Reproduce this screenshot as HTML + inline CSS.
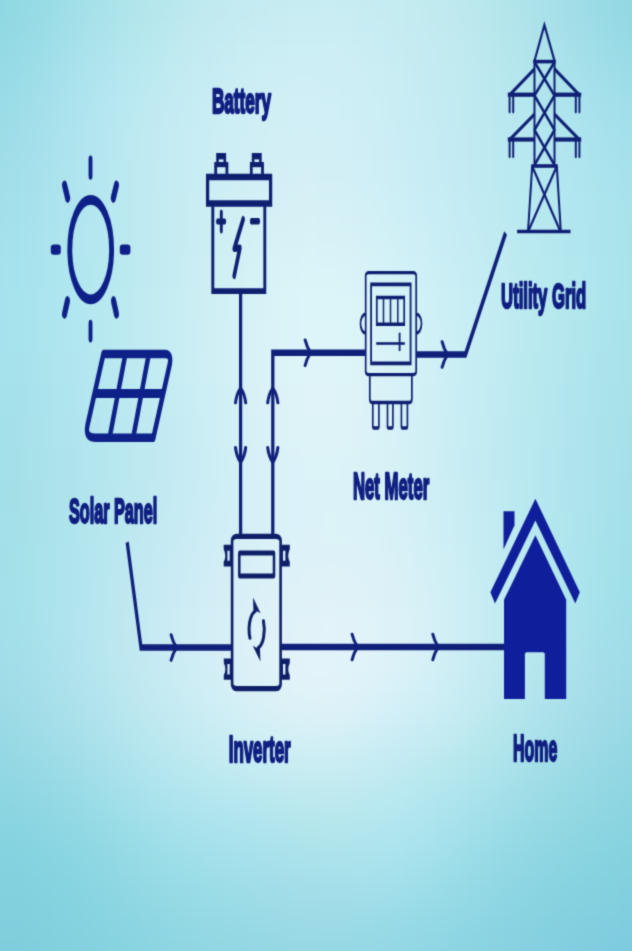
<!DOCTYPE html>
<html><head><meta charset="utf-8"><title>Solar system diagram</title>
<style>
html,body{margin:0;padding:0;width:632px;height:951px;overflow:hidden;}
body{background:radial-gradient(ellipse 300px 500px at 316px 400px, #dcf4f9 0%, #d6f1f7 45%, #cdeef5 68%, #c3eaf2 77%, #aee4ed 93%, #a3dfe8 102%, #8fd8e2 133%, #80cedd 150%);font-family:"Liberation Sans",sans-serif;}
svg{position:absolute;left:0;top:0;will-change:transform;}
</style></head>
<body>
<svg width="632" height="951" viewBox="0 0 632 951">
<defs><filter id="soft" color-interpolation-filters="sRGB" filterUnits="userSpaceOnUse" x="0" y="0" width="632" height="951"><feConvolveMatrix order="3" kernelMatrix="1 4.0 1 4.0 16.0 4.0 1 4.0 1" divisor="36.0"/></filter>
</defs>
<g>
<defs><filter id="bgb" color-interpolation-filters="sRGB" filterUnits="userSpaceOnUse" x="-120" y="-120" width="872" height="1191"><feGaussianBlur stdDeviation="16"/></filter></defs><g filter="url(#bgb)"><rect x="-64" y="-64" width="32" height="32" fill="#8cd7e1"/><rect x="-32" y="-64" width="32" height="32" fill="#8cd7e1"/><rect x="0" y="-64" width="32" height="32" fill="#90d8e2"/><rect x="32" y="-64" width="32" height="32" fill="#98dce5"/><rect x="64" y="-64" width="32" height="32" fill="#a1dfe7"/><rect x="96" y="-64" width="32" height="32" fill="#aae2e9"/><rect x="128" y="-64" width="32" height="32" fill="#b1e5eb"/><rect x="160" y="-64" width="32" height="32" fill="#b8e8ed"/><rect x="192" y="-64" width="32" height="32" fill="#bde9ef"/><rect x="224" y="-64" width="32" height="32" fill="#c2ebf0"/><rect x="256" y="-64" width="32" height="32" fill="#c5ebf1"/><rect x="288" y="-64" width="32" height="32" fill="#c6ecf2"/><rect x="320" y="-64" width="32" height="32" fill="#c6ecf2"/><rect x="352" y="-64" width="32" height="32" fill="#c5ecf1"/><rect x="384" y="-64" width="32" height="32" fill="#c3ebf0"/><rect x="416" y="-64" width="32" height="32" fill="#c0eaee"/><rect x="448" y="-64" width="32" height="32" fill="#bbe8ed"/><rect x="480" y="-64" width="32" height="32" fill="#b4e5eb"/><rect x="512" y="-64" width="32" height="32" fill="#ace2e9"/><rect x="544" y="-64" width="32" height="32" fill="#a4dee7"/><rect x="576" y="-64" width="32" height="32" fill="#9bdbe5"/><rect x="608" y="-64" width="32" height="32" fill="#93d7e3"/><rect x="640" y="-64" width="32" height="32" fill="#91d7e3"/><rect x="672" y="-64" width="32" height="32" fill="#91d7e3"/><rect x="-64" y="-32" width="32" height="32" fill="#8cd7e1"/><rect x="-32" y="-32" width="32" height="32" fill="#8cd7e1"/><rect x="0" y="-32" width="32" height="32" fill="#90d8e2"/><rect x="32" y="-32" width="32" height="32" fill="#98dce5"/><rect x="64" y="-32" width="32" height="32" fill="#a1dfe7"/><rect x="96" y="-32" width="32" height="32" fill="#aae2e9"/><rect x="128" y="-32" width="32" height="32" fill="#b1e5eb"/><rect x="160" y="-32" width="32" height="32" fill="#b8e8ed"/><rect x="192" y="-32" width="32" height="32" fill="#bde9ef"/><rect x="224" y="-32" width="32" height="32" fill="#c2ebf0"/><rect x="256" y="-32" width="32" height="32" fill="#c5ebf1"/><rect x="288" y="-32" width="32" height="32" fill="#c6ecf2"/><rect x="320" y="-32" width="32" height="32" fill="#c6ecf2"/><rect x="352" y="-32" width="32" height="32" fill="#c5ecf1"/><rect x="384" y="-32" width="32" height="32" fill="#c3ebf0"/><rect x="416" y="-32" width="32" height="32" fill="#c0eaee"/><rect x="448" y="-32" width="32" height="32" fill="#bbe8ed"/><rect x="480" y="-32" width="32" height="32" fill="#b4e5eb"/><rect x="512" y="-32" width="32" height="32" fill="#ace2e9"/><rect x="544" y="-32" width="32" height="32" fill="#a4dee7"/><rect x="576" y="-32" width="32" height="32" fill="#9bdbe5"/><rect x="608" y="-32" width="32" height="32" fill="#93d7e3"/><rect x="640" y="-32" width="32" height="32" fill="#91d7e3"/><rect x="672" y="-32" width="32" height="32" fill="#91d7e3"/><rect x="-64" y="0" width="32" height="32" fill="#8dd7e2"/><rect x="-32" y="0" width="32" height="32" fill="#8dd7e2"/><rect x="0" y="0" width="32" height="32" fill="#91d9e3"/><rect x="32" y="0" width="32" height="32" fill="#9adce6"/><rect x="64" y="0" width="32" height="32" fill="#a3e0e8"/><rect x="96" y="0" width="32" height="32" fill="#ace3eb"/><rect x="128" y="0" width="32" height="32" fill="#b4e6ec"/><rect x="160" y="0" width="32" height="32" fill="#bae8ee"/><rect x="192" y="0" width="32" height="32" fill="#c0eaf0"/><rect x="224" y="0" width="32" height="32" fill="#c4ebf1"/><rect x="256" y="0" width="32" height="32" fill="#c7ecf2"/><rect x="288" y="0" width="32" height="32" fill="#c8edf3"/><rect x="320" y="0" width="32" height="32" fill="#c9edf3"/><rect x="352" y="0" width="32" height="32" fill="#c7ecf2"/><rect x="384" y="0" width="32" height="32" fill="#c5ecf1"/><rect x="416" y="0" width="32" height="32" fill="#c1eaef"/><rect x="448" y="0" width="32" height="32" fill="#bde9ee"/><rect x="480" y="0" width="32" height="32" fill="#b6e6ec"/><rect x="512" y="0" width="32" height="32" fill="#aee3ea"/><rect x="544" y="0" width="32" height="32" fill="#a5dfe8"/><rect x="576" y="0" width="32" height="32" fill="#9cdce6"/><rect x="608" y="0" width="32" height="32" fill="#94d8e4"/><rect x="640" y="0" width="32" height="32" fill="#93d8e4"/><rect x="672" y="0" width="32" height="32" fill="#93d8e4"/><rect x="-64" y="32" width="32" height="32" fill="#91d9e3"/><rect x="-32" y="32" width="32" height="32" fill="#91d9e3"/><rect x="0" y="32" width="32" height="32" fill="#95dae5"/><rect x="32" y="32" width="32" height="32" fill="#9edee8"/><rect x="64" y="32" width="32" height="32" fill="#a8e2eb"/><rect x="96" y="32" width="32" height="32" fill="#b0e5ed"/><rect x="128" y="32" width="32" height="32" fill="#b8e8ef"/><rect x="160" y="32" width="32" height="32" fill="#beeaf0"/><rect x="192" y="32" width="32" height="32" fill="#c4ebf1"/><rect x="224" y="32" width="32" height="32" fill="#c8edf3"/><rect x="256" y="32" width="32" height="32" fill="#cbedf4"/><rect x="288" y="32" width="32" height="32" fill="#cceef5"/><rect x="320" y="32" width="32" height="32" fill="#cceef4"/><rect x="352" y="32" width="32" height="32" fill="#caedf4"/><rect x="384" y="32" width="32" height="32" fill="#c7ecf2"/><rect x="416" y="32" width="32" height="32" fill="#c3ebf1"/><rect x="448" y="32" width="32" height="32" fill="#bfeaef"/><rect x="480" y="32" width="32" height="32" fill="#b9e7ed"/><rect x="512" y="32" width="32" height="32" fill="#b1e4ec"/><rect x="544" y="32" width="32" height="32" fill="#a9e1ea"/><rect x="576" y="32" width="32" height="32" fill="#a0dee8"/><rect x="608" y="32" width="32" height="32" fill="#98dae6"/><rect x="640" y="32" width="32" height="32" fill="#97dae6"/><rect x="672" y="32" width="32" height="32" fill="#97dae6"/><rect x="-64" y="64" width="32" height="32" fill="#95dae5"/><rect x="-32" y="64" width="32" height="32" fill="#95dae5"/><rect x="0" y="64" width="32" height="32" fill="#99dce7"/><rect x="32" y="64" width="32" height="32" fill="#a2dfea"/><rect x="64" y="64" width="32" height="32" fill="#ace3ed"/><rect x="96" y="64" width="32" height="32" fill="#b4e6f0"/><rect x="128" y="64" width="32" height="32" fill="#bbe9f1"/><rect x="160" y="64" width="32" height="32" fill="#c1ebf2"/><rect x="192" y="64" width="32" height="32" fill="#c7ecf3"/><rect x="224" y="64" width="32" height="32" fill="#cbedf4"/><rect x="256" y="64" width="32" height="32" fill="#ceeef5"/><rect x="288" y="64" width="32" height="32" fill="#cfeef6"/><rect x="320" y="64" width="32" height="32" fill="#ceeef5"/><rect x="352" y="64" width="32" height="32" fill="#cceef4"/><rect x="384" y="64" width="32" height="32" fill="#c8edf3"/><rect x="416" y="64" width="32" height="32" fill="#c4ebf2"/><rect x="448" y="64" width="32" height="32" fill="#bfeaf0"/><rect x="480" y="64" width="32" height="32" fill="#bae8ef"/><rect x="512" y="64" width="32" height="32" fill="#b3e5ed"/><rect x="544" y="64" width="32" height="32" fill="#ace3ec"/><rect x="576" y="64" width="32" height="32" fill="#a4e0ea"/><rect x="608" y="64" width="32" height="32" fill="#9ddde8"/><rect x="640" y="64" width="32" height="32" fill="#9bdce8"/><rect x="672" y="64" width="32" height="32" fill="#9bdce8"/><rect x="-64" y="96" width="32" height="32" fill="#98dbe6"/><rect x="-32" y="96" width="32" height="32" fill="#98dbe6"/><rect x="0" y="96" width="32" height="32" fill="#9ddde8"/><rect x="32" y="96" width="32" height="32" fill="#a5e0eb"/><rect x="64" y="96" width="32" height="32" fill="#aee4ef"/><rect x="96" y="96" width="32" height="32" fill="#b7e7f1"/><rect x="128" y="96" width="32" height="32" fill="#beeaf2"/><rect x="160" y="96" width="32" height="32" fill="#c4ebf3"/><rect x="192" y="96" width="32" height="32" fill="#c9edf4"/><rect x="224" y="96" width="32" height="32" fill="#cdeef5"/><rect x="256" y="96" width="32" height="32" fill="#d0eff5"/><rect x="288" y="96" width="32" height="32" fill="#d1eff6"/><rect x="320" y="96" width="32" height="32" fill="#d0eff6"/><rect x="352" y="96" width="32" height="32" fill="#cdeef5"/><rect x="384" y="96" width="32" height="32" fill="#c9edf4"/><rect x="416" y="96" width="32" height="32" fill="#c5ebf3"/><rect x="448" y="96" width="32" height="32" fill="#c0eaf1"/><rect x="480" y="96" width="32" height="32" fill="#bbe8f0"/><rect x="512" y="96" width="32" height="32" fill="#b5e7ef"/><rect x="544" y="96" width="32" height="32" fill="#afe4ed"/><rect x="576" y="96" width="32" height="32" fill="#a8e2ec"/><rect x="608" y="96" width="32" height="32" fill="#a1dfea"/><rect x="640" y="96" width="32" height="32" fill="#9fdeea"/><rect x="672" y="96" width="32" height="32" fill="#9fdeea"/><rect x="-64" y="128" width="32" height="32" fill="#9bdce7"/><rect x="-32" y="128" width="32" height="32" fill="#9bdce7"/><rect x="0" y="128" width="32" height="32" fill="#9fdde9"/><rect x="32" y="128" width="32" height="32" fill="#a7e1ec"/><rect x="64" y="128" width="32" height="32" fill="#b0e4ef"/><rect x="96" y="128" width="32" height="32" fill="#b8e7f1"/><rect x="128" y="128" width="32" height="32" fill="#bfeaf2"/><rect x="160" y="128" width="32" height="32" fill="#c5ecf3"/><rect x="192" y="128" width="32" height="32" fill="#caedf4"/><rect x="224" y="128" width="32" height="32" fill="#cfeef5"/><rect x="256" y="128" width="32" height="32" fill="#d1eff5"/><rect x="288" y="128" width="32" height="32" fill="#d2eff6"/><rect x="320" y="128" width="32" height="32" fill="#d2eff6"/><rect x="352" y="128" width="32" height="32" fill="#cfeef5"/><rect x="384" y="128" width="32" height="32" fill="#cbedf5"/><rect x="416" y="128" width="32" height="32" fill="#c6ecf4"/><rect x="448" y="128" width="32" height="32" fill="#c1eaf2"/><rect x="480" y="128" width="32" height="32" fill="#bce9f1"/><rect x="512" y="128" width="32" height="32" fill="#b7e7f0"/><rect x="544" y="128" width="32" height="32" fill="#b1e6ef"/><rect x="576" y="128" width="32" height="32" fill="#abe3ed"/><rect x="608" y="128" width="32" height="32" fill="#a4e1eb"/><rect x="640" y="128" width="32" height="32" fill="#a3e0eb"/><rect x="672" y="128" width="32" height="32" fill="#a3e0eb"/><rect x="-64" y="160" width="32" height="32" fill="#9ddde8"/><rect x="-32" y="160" width="32" height="32" fill="#9ddde8"/><rect x="0" y="160" width="32" height="32" fill="#a1dfea"/><rect x="32" y="160" width="32" height="32" fill="#a9e2ec"/><rect x="64" y="160" width="32" height="32" fill="#b1e5ef"/><rect x="96" y="160" width="32" height="32" fill="#b8e8f0"/><rect x="128" y="160" width="32" height="32" fill="#bfeaf2"/><rect x="160" y="160" width="32" height="32" fill="#c5ecf3"/><rect x="192" y="160" width="32" height="32" fill="#cbedf4"/><rect x="224" y="160" width="32" height="32" fill="#d0eff5"/><rect x="256" y="160" width="32" height="32" fill="#d3eff5"/><rect x="288" y="160" width="32" height="32" fill="#d4f0f6"/><rect x="320" y="160" width="32" height="32" fill="#d3eff6"/><rect x="352" y="160" width="32" height="32" fill="#d0eff6"/><rect x="384" y="160" width="32" height="32" fill="#cceef5"/><rect x="416" y="160" width="32" height="32" fill="#c7ecf4"/><rect x="448" y="160" width="32" height="32" fill="#c2ebf3"/><rect x="480" y="160" width="32" height="32" fill="#bdeaf2"/><rect x="512" y="160" width="32" height="32" fill="#b8e8f1"/><rect x="544" y="160" width="32" height="32" fill="#b3e6ef"/><rect x="576" y="160" width="32" height="32" fill="#ade4ee"/><rect x="608" y="160" width="32" height="32" fill="#a6e2ec"/><rect x="640" y="160" width="32" height="32" fill="#a5e1eb"/><rect x="672" y="160" width="32" height="32" fill="#a5e1eb"/><rect x="-64" y="192" width="32" height="32" fill="#9fdfea"/><rect x="-32" y="192" width="32" height="32" fill="#9fdfea"/><rect x="0" y="192" width="32" height="32" fill="#a2e0eb"/><rect x="32" y="192" width="32" height="32" fill="#aae3ed"/><rect x="64" y="192" width="32" height="32" fill="#b1e5ef"/><rect x="96" y="192" width="32" height="32" fill="#b8e8f0"/><rect x="128" y="192" width="32" height="32" fill="#bfeaf1"/><rect x="160" y="192" width="32" height="32" fill="#c5ecf2"/><rect x="192" y="192" width="32" height="32" fill="#cceef4"/><rect x="224" y="192" width="32" height="32" fill="#d1eff5"/><rect x="256" y="192" width="32" height="32" fill="#d4f0f6"/><rect x="288" y="192" width="32" height="32" fill="#d6f1f6"/><rect x="320" y="192" width="32" height="32" fill="#d5f1f7"/><rect x="352" y="192" width="32" height="32" fill="#d2f0f6"/><rect x="384" y="192" width="32" height="32" fill="#ceeff6"/><rect x="416" y="192" width="32" height="32" fill="#c9edf5"/><rect x="448" y="192" width="32" height="32" fill="#c3ecf4"/><rect x="480" y="192" width="32" height="32" fill="#beeaf2"/><rect x="512" y="192" width="32" height="32" fill="#b9e9f1"/><rect x="544" y="192" width="32" height="32" fill="#b4e7ef"/><rect x="576" y="192" width="32" height="32" fill="#aee5ee"/><rect x="608" y="192" width="32" height="32" fill="#a8e3ec"/><rect x="640" y="192" width="32" height="32" fill="#a6e2eb"/><rect x="672" y="192" width="32" height="32" fill="#a6e2eb"/><rect x="-64" y="224" width="32" height="32" fill="#a0e0eb"/><rect x="-32" y="224" width="32" height="32" fill="#a0e0eb"/><rect x="0" y="224" width="32" height="32" fill="#a4e1ec"/><rect x="32" y="224" width="32" height="32" fill="#abe4ee"/><rect x="64" y="224" width="32" height="32" fill="#b2e6ef"/><rect x="96" y="224" width="32" height="32" fill="#b8e8f0"/><rect x="128" y="224" width="32" height="32" fill="#bfeaf1"/><rect x="160" y="224" width="32" height="32" fill="#c5ecf2"/><rect x="192" y="224" width="32" height="32" fill="#cceef3"/><rect x="224" y="224" width="32" height="32" fill="#d2f0f5"/><rect x="256" y="224" width="32" height="32" fill="#d6f2f6"/><rect x="288" y="224" width="32" height="32" fill="#d8f2f7"/><rect x="320" y="224" width="32" height="32" fill="#d7f2f7"/><rect x="352" y="224" width="32" height="32" fill="#d5f1f7"/><rect x="384" y="224" width="32" height="32" fill="#d0f0f6"/><rect x="416" y="224" width="32" height="32" fill="#cbeef5"/><rect x="448" y="224" width="32" height="32" fill="#c5ecf4"/><rect x="480" y="224" width="32" height="32" fill="#bfebf2"/><rect x="512" y="224" width="32" height="32" fill="#bae9f1"/><rect x="544" y="224" width="32" height="32" fill="#b4e7ef"/><rect x="576" y="224" width="32" height="32" fill="#aee5ed"/><rect x="608" y="224" width="32" height="32" fill="#a8e3ec"/><rect x="640" y="224" width="32" height="32" fill="#a7e2eb"/><rect x="672" y="224" width="32" height="32" fill="#a7e2eb"/><rect x="-64" y="256" width="32" height="32" fill="#a1e1ec"/><rect x="-32" y="256" width="32" height="32" fill="#a1e1ec"/><rect x="0" y="256" width="32" height="32" fill="#a5e2ed"/><rect x="32" y="256" width="32" height="32" fill="#abe5ee"/><rect x="64" y="256" width="32" height="32" fill="#b2e7ef"/><rect x="96" y="256" width="32" height="32" fill="#b8e9f0"/><rect x="128" y="256" width="32" height="32" fill="#bfeaf1"/><rect x="160" y="256" width="32" height="32" fill="#c6ecf2"/><rect x="192" y="256" width="32" height="32" fill="#cdeff4"/><rect x="224" y="256" width="32" height="32" fill="#d3f1f5"/><rect x="256" y="256" width="32" height="32" fill="#d8f3f7"/><rect x="288" y="256" width="32" height="32" fill="#daf4f8"/><rect x="320" y="256" width="32" height="32" fill="#daf4f8"/><rect x="352" y="256" width="32" height="32" fill="#d7f3f8"/><rect x="384" y="256" width="32" height="32" fill="#d2f1f7"/><rect x="416" y="256" width="32" height="32" fill="#cdeff6"/><rect x="448" y="256" width="32" height="32" fill="#c7edf4"/><rect x="480" y="256" width="32" height="32" fill="#c1ebf2"/><rect x="512" y="256" width="32" height="32" fill="#bbeaf1"/><rect x="544" y="256" width="32" height="32" fill="#b5e8ef"/><rect x="576" y="256" width="32" height="32" fill="#afe6ed"/><rect x="608" y="256" width="32" height="32" fill="#a8e3eb"/><rect x="640" y="256" width="32" height="32" fill="#a7e3eb"/><rect x="672" y="256" width="32" height="32" fill="#a7e3eb"/><rect x="-64" y="288" width="32" height="32" fill="#a2e2ec"/><rect x="-32" y="288" width="32" height="32" fill="#a2e2ec"/><rect x="0" y="288" width="32" height="32" fill="#a5e3ed"/><rect x="32" y="288" width="32" height="32" fill="#ace5ef"/><rect x="64" y="288" width="32" height="32" fill="#b2e7f0"/><rect x="96" y="288" width="32" height="32" fill="#b9e9f0"/><rect x="128" y="288" width="32" height="32" fill="#c0ebf1"/><rect x="160" y="288" width="32" height="32" fill="#c7edf2"/><rect x="192" y="288" width="32" height="32" fill="#ceeff4"/><rect x="224" y="288" width="32" height="32" fill="#d4f1f6"/><rect x="256" y="288" width="32" height="32" fill="#d9f3f8"/><rect x="288" y="288" width="32" height="32" fill="#dcf5f9"/><rect x="320" y="288" width="32" height="32" fill="#dcf5f9"/><rect x="352" y="288" width="32" height="32" fill="#d9f4f8"/><rect x="384" y="288" width="32" height="32" fill="#d4f2f7"/><rect x="416" y="288" width="32" height="32" fill="#cef0f6"/><rect x="448" y="288" width="32" height="32" fill="#c8eef4"/><rect x="480" y="288" width="32" height="32" fill="#c1ecf2"/><rect x="512" y="288" width="32" height="32" fill="#bbeaf0"/><rect x="544" y="288" width="32" height="32" fill="#b5e8ee"/><rect x="576" y="288" width="32" height="32" fill="#afe6ec"/><rect x="608" y="288" width="32" height="32" fill="#a8e3eb"/><rect x="640" y="288" width="32" height="32" fill="#a7e3ea"/><rect x="672" y="288" width="32" height="32" fill="#a7e3ea"/><rect x="-64" y="320" width="32" height="32" fill="#a2e1ec"/><rect x="-32" y="320" width="32" height="32" fill="#a2e1ec"/><rect x="0" y="320" width="32" height="32" fill="#a5e3ed"/><rect x="32" y="320" width="32" height="32" fill="#ace5ee"/><rect x="64" y="320" width="32" height="32" fill="#b2e7ef"/><rect x="96" y="320" width="32" height="32" fill="#b9e9f0"/><rect x="128" y="320" width="32" height="32" fill="#c0ebf2"/><rect x="160" y="320" width="32" height="32" fill="#c7edf3"/><rect x="192" y="320" width="32" height="32" fill="#ceeff4"/><rect x="224" y="320" width="32" height="32" fill="#d5f1f6"/><rect x="256" y="320" width="32" height="32" fill="#daf3f8"/><rect x="288" y="320" width="32" height="32" fill="#ddf5f9"/><rect x="320" y="320" width="32" height="32" fill="#ddf5f9"/><rect x="352" y="320" width="32" height="32" fill="#daf4f8"/><rect x="384" y="320" width="32" height="32" fill="#d5f2f7"/><rect x="416" y="320" width="32" height="32" fill="#cff0f6"/><rect x="448" y="320" width="32" height="32" fill="#c8eef4"/><rect x="480" y="320" width="32" height="32" fill="#c1ecf2"/><rect x="512" y="320" width="32" height="32" fill="#bbe9f0"/><rect x="544" y="320" width="32" height="32" fill="#b5e7ee"/><rect x="576" y="320" width="32" height="32" fill="#aee5ec"/><rect x="608" y="320" width="32" height="32" fill="#a8e3ea"/><rect x="640" y="320" width="32" height="32" fill="#a7e2ea"/><rect x="672" y="320" width="32" height="32" fill="#a7e2ea"/><rect x="-64" y="352" width="32" height="32" fill="#a2e1eb"/><rect x="-32" y="352" width="32" height="32" fill="#a2e1eb"/><rect x="0" y="352" width="32" height="32" fill="#a5e2ec"/><rect x="32" y="352" width="32" height="32" fill="#ace4ed"/><rect x="64" y="352" width="32" height="32" fill="#b2e6ef"/><rect x="96" y="352" width="32" height="32" fill="#b9e8f0"/><rect x="128" y="352" width="32" height="32" fill="#c0eaf2"/><rect x="160" y="352" width="32" height="32" fill="#c7edf3"/><rect x="192" y="352" width="32" height="32" fill="#ceeff5"/><rect x="224" y="352" width="32" height="32" fill="#d5f1f6"/><rect x="256" y="352" width="32" height="32" fill="#dbf3f8"/><rect x="288" y="352" width="32" height="32" fill="#def4f8"/><rect x="320" y="352" width="32" height="32" fill="#def4f9"/><rect x="352" y="352" width="32" height="32" fill="#dbf3f8"/><rect x="384" y="352" width="32" height="32" fill="#d6f2f7"/><rect x="416" y="352" width="32" height="32" fill="#cff0f6"/><rect x="448" y="352" width="32" height="32" fill="#c8edf4"/><rect x="480" y="352" width="32" height="32" fill="#c1ebf2"/><rect x="512" y="352" width="32" height="32" fill="#bae9f0"/><rect x="544" y="352" width="32" height="32" fill="#b4e7ee"/><rect x="576" y="352" width="32" height="32" fill="#aee4ec"/><rect x="608" y="352" width="32" height="32" fill="#a8e2ea"/><rect x="640" y="352" width="32" height="32" fill="#a6e2ea"/><rect x="672" y="352" width="32" height="32" fill="#a6e2ea"/><rect x="-64" y="384" width="32" height="32" fill="#a2e0ea"/><rect x="-32" y="384" width="32" height="32" fill="#a2e0ea"/><rect x="0" y="384" width="32" height="32" fill="#a5e1eb"/><rect x="32" y="384" width="32" height="32" fill="#abe3ed"/><rect x="64" y="384" width="32" height="32" fill="#b2e6ee"/><rect x="96" y="384" width="32" height="32" fill="#b8e8f0"/><rect x="128" y="384" width="32" height="32" fill="#bfeaf1"/><rect x="160" y="384" width="32" height="32" fill="#c6ecf3"/><rect x="192" y="384" width="32" height="32" fill="#cdeef5"/><rect x="224" y="384" width="32" height="32" fill="#d5f0f6"/><rect x="256" y="384" width="32" height="32" fill="#dbf2f7"/><rect x="288" y="384" width="32" height="32" fill="#dff3f8"/><rect x="320" y="384" width="32" height="32" fill="#dff3f8"/><rect x="352" y="384" width="32" height="32" fill="#dbf3f8"/><rect x="384" y="384" width="32" height="32" fill="#d6f1f7"/><rect x="416" y="384" width="32" height="32" fill="#cfeff5"/><rect x="448" y="384" width="32" height="32" fill="#c7edf4"/><rect x="480" y="384" width="32" height="32" fill="#c0ebf2"/><rect x="512" y="384" width="32" height="32" fill="#bae9f0"/><rect x="544" y="384" width="32" height="32" fill="#b3e6ee"/><rect x="576" y="384" width="32" height="32" fill="#ade4ec"/><rect x="608" y="384" width="32" height="32" fill="#a7e1ea"/><rect x="640" y="384" width="32" height="32" fill="#a6e1ea"/><rect x="672" y="384" width="32" height="32" fill="#a6e1ea"/><rect x="-64" y="416" width="32" height="32" fill="#a2dfe9"/><rect x="-32" y="416" width="32" height="32" fill="#a2dfe9"/><rect x="0" y="416" width="32" height="32" fill="#a5e0ea"/><rect x="32" y="416" width="32" height="32" fill="#abe3ec"/><rect x="64" y="416" width="32" height="32" fill="#b1e5ee"/><rect x="96" y="416" width="32" height="32" fill="#b8e7ef"/><rect x="128" y="416" width="32" height="32" fill="#bee9f1"/><rect x="160" y="416" width="32" height="32" fill="#c5ebf3"/><rect x="192" y="416" width="32" height="32" fill="#cceef5"/><rect x="224" y="416" width="32" height="32" fill="#d4f0f6"/><rect x="256" y="416" width="32" height="32" fill="#daf2f7"/><rect x="288" y="416" width="32" height="32" fill="#def3f8"/><rect x="320" y="416" width="32" height="32" fill="#def3f8"/><rect x="352" y="416" width="32" height="32" fill="#dbf2f8"/><rect x="384" y="416" width="32" height="32" fill="#d5f1f7"/><rect x="416" y="416" width="32" height="32" fill="#ceeff5"/><rect x="448" y="416" width="32" height="32" fill="#c7edf3"/><rect x="480" y="416" width="32" height="32" fill="#c0eaf2"/><rect x="512" y="416" width="32" height="32" fill="#b9e8f0"/><rect x="544" y="416" width="32" height="32" fill="#b3e6ee"/><rect x="576" y="416" width="32" height="32" fill="#ace3ec"/><rect x="608" y="416" width="32" height="32" fill="#a6e1ea"/><rect x="640" y="416" width="32" height="32" fill="#a5e0ea"/><rect x="672" y="416" width="32" height="32" fill="#a5e0ea"/><rect x="-64" y="448" width="32" height="32" fill="#a1dfe8"/><rect x="-32" y="448" width="32" height="32" fill="#a1dfe8"/><rect x="0" y="448" width="32" height="32" fill="#a4e0e9"/><rect x="32" y="448" width="32" height="32" fill="#abe2eb"/><rect x="64" y="448" width="32" height="32" fill="#b1e4ed"/><rect x="96" y="448" width="32" height="32" fill="#b7e7ef"/><rect x="128" y="448" width="32" height="32" fill="#bee9f1"/><rect x="160" y="448" width="32" height="32" fill="#c4ebf3"/><rect x="192" y="448" width="32" height="32" fill="#ccedf4"/><rect x="224" y="448" width="32" height="32" fill="#d3f0f6"/><rect x="256" y="448" width="32" height="32" fill="#d9f1f7"/><rect x="288" y="448" width="32" height="32" fill="#dcf3f8"/><rect x="320" y="448" width="32" height="32" fill="#dcf3f8"/><rect x="352" y="448" width="32" height="32" fill="#daf2f7"/><rect x="384" y="448" width="32" height="32" fill="#d5f1f6"/><rect x="416" y="448" width="32" height="32" fill="#ceeff5"/><rect x="448" y="448" width="32" height="32" fill="#c7ecf3"/><rect x="480" y="448" width="32" height="32" fill="#bfeaf2"/><rect x="512" y="448" width="32" height="32" fill="#b9e8f0"/><rect x="544" y="448" width="32" height="32" fill="#b2e5ee"/><rect x="576" y="448" width="32" height="32" fill="#ace3ec"/><rect x="608" y="448" width="32" height="32" fill="#a5e0ea"/><rect x="640" y="448" width="32" height="32" fill="#a4e0ea"/><rect x="672" y="448" width="32" height="32" fill="#a4e0ea"/><rect x="-64" y="480" width="32" height="32" fill="#a1dee7"/><rect x="-32" y="480" width="32" height="32" fill="#a1dee7"/><rect x="0" y="480" width="32" height="32" fill="#a4dfe8"/><rect x="32" y="480" width="32" height="32" fill="#abe2eb"/><rect x="64" y="480" width="32" height="32" fill="#b1e4ed"/><rect x="96" y="480" width="32" height="32" fill="#b8e6ef"/><rect x="128" y="480" width="32" height="32" fill="#bee8f1"/><rect x="160" y="480" width="32" height="32" fill="#c5ebf3"/><rect x="192" y="480" width="32" height="32" fill="#ccedf5"/><rect x="224" y="480" width="32" height="32" fill="#d3eff6"/><rect x="256" y="480" width="32" height="32" fill="#d8f1f7"/><rect x="288" y="480" width="32" height="32" fill="#dbf3f8"/><rect x="320" y="480" width="32" height="32" fill="#dbf3f8"/><rect x="352" y="480" width="32" height="32" fill="#d9f2f7"/><rect x="384" y="480" width="32" height="32" fill="#d5f1f7"/><rect x="416" y="480" width="32" height="32" fill="#cfeff5"/><rect x="448" y="480" width="32" height="32" fill="#c8edf3"/><rect x="480" y="480" width="32" height="32" fill="#c0ebf2"/><rect x="512" y="480" width="32" height="32" fill="#b9e8f0"/><rect x="544" y="480" width="32" height="32" fill="#b2e5ee"/><rect x="576" y="480" width="32" height="32" fill="#abe3ec"/><rect x="608" y="480" width="32" height="32" fill="#a4e0ea"/><rect x="640" y="480" width="32" height="32" fill="#a3dfe9"/><rect x="672" y="480" width="32" height="32" fill="#a3dfe9"/><rect x="-64" y="512" width="32" height="32" fill="#a1dfe8"/><rect x="-32" y="512" width="32" height="32" fill="#a1dfe8"/><rect x="0" y="512" width="32" height="32" fill="#a4e0e9"/><rect x="32" y="512" width="32" height="32" fill="#aae2eb"/><rect x="64" y="512" width="32" height="32" fill="#b1e5ed"/><rect x="96" y="512" width="32" height="32" fill="#b8e7ef"/><rect x="128" y="512" width="32" height="32" fill="#c0e9f1"/><rect x="160" y="512" width="32" height="32" fill="#c7ebf3"/><rect x="192" y="512" width="32" height="32" fill="#ceedf5"/><rect x="224" y="512" width="32" height="32" fill="#d4eff6"/><rect x="256" y="512" width="32" height="32" fill="#d8f1f7"/><rect x="288" y="512" width="32" height="32" fill="#dbf2f8"/><rect x="320" y="512" width="32" height="32" fill="#dcf3f8"/><rect x="352" y="512" width="32" height="32" fill="#daf2f8"/><rect x="384" y="512" width="32" height="32" fill="#d6f1f7"/><rect x="416" y="512" width="32" height="32" fill="#d0eff5"/><rect x="448" y="512" width="32" height="32" fill="#c9edf4"/><rect x="480" y="512" width="32" height="32" fill="#c1ebf2"/><rect x="512" y="512" width="32" height="32" fill="#b9e8f0"/><rect x="544" y="512" width="32" height="32" fill="#b1e6ed"/><rect x="576" y="512" width="32" height="32" fill="#aae3eb"/><rect x="608" y="512" width="32" height="32" fill="#a3e0ea"/><rect x="640" y="512" width="32" height="32" fill="#a1dfe9"/><rect x="672" y="512" width="32" height="32" fill="#a1dfe9"/><rect x="-64" y="544" width="32" height="32" fill="#a0dfe8"/><rect x="-32" y="544" width="32" height="32" fill="#a0dfe8"/><rect x="0" y="544" width="32" height="32" fill="#a3e1e9"/><rect x="32" y="544" width="32" height="32" fill="#aae3ec"/><rect x="64" y="544" width="32" height="32" fill="#b2e5ee"/><rect x="96" y="544" width="32" height="32" fill="#bae7f0"/><rect x="128" y="544" width="32" height="32" fill="#c1e9f2"/><rect x="160" y="544" width="32" height="32" fill="#c9ebf4"/><rect x="192" y="544" width="32" height="32" fill="#d0edf5"/><rect x="224" y="544" width="32" height="32" fill="#d6eff6"/><rect x="256" y="544" width="32" height="32" fill="#daf1f7"/><rect x="288" y="544" width="32" height="32" fill="#ddf2f8"/><rect x="320" y="544" width="32" height="32" fill="#ddf2f8"/><rect x="352" y="544" width="32" height="32" fill="#dcf2f8"/><rect x="384" y="544" width="32" height="32" fill="#d8f1f7"/><rect x="416" y="544" width="32" height="32" fill="#d2f0f6"/><rect x="448" y="544" width="32" height="32" fill="#caeef4"/><rect x="480" y="544" width="32" height="32" fill="#c2ebf2"/><rect x="512" y="544" width="32" height="32" fill="#b9e9f0"/><rect x="544" y="544" width="32" height="32" fill="#b1e6ed"/><rect x="576" y="544" width="32" height="32" fill="#a8e3eb"/><rect x="608" y="544" width="32" height="32" fill="#a1e0e9"/><rect x="640" y="544" width="32" height="32" fill="#a0dfe9"/><rect x="672" y="544" width="32" height="32" fill="#a0dfe9"/><rect x="-64" y="576" width="32" height="32" fill="#a0dfe9"/><rect x="-32" y="576" width="32" height="32" fill="#a0dfe9"/><rect x="0" y="576" width="32" height="32" fill="#a3e1ea"/><rect x="32" y="576" width="32" height="32" fill="#aae3ec"/><rect x="64" y="576" width="32" height="32" fill="#b2e5ee"/><rect x="96" y="576" width="32" height="32" fill="#bbe7f0"/><rect x="128" y="576" width="32" height="32" fill="#c3e9f2"/><rect x="160" y="576" width="32" height="32" fill="#cbebf4"/><rect x="192" y="576" width="32" height="32" fill="#d2edf5"/><rect x="224" y="576" width="32" height="32" fill="#d8eff7"/><rect x="256" y="576" width="32" height="32" fill="#dcf1f7"/><rect x="288" y="576" width="32" height="32" fill="#dff2f8"/><rect x="320" y="576" width="32" height="32" fill="#e0f2f8"/><rect x="352" y="576" width="32" height="32" fill="#def2f8"/><rect x="384" y="576" width="32" height="32" fill="#daf1f7"/><rect x="416" y="576" width="32" height="32" fill="#d4f0f6"/><rect x="448" y="576" width="32" height="32" fill="#cceef4"/><rect x="480" y="576" width="32" height="32" fill="#c3ebf2"/><rect x="512" y="576" width="32" height="32" fill="#b9e9ef"/><rect x="544" y="576" width="32" height="32" fill="#b0e6ed"/><rect x="576" y="576" width="32" height="32" fill="#a7e3eb"/><rect x="608" y="576" width="32" height="32" fill="#a0e0e9"/><rect x="640" y="576" width="32" height="32" fill="#9edfe8"/><rect x="672" y="576" width="32" height="32" fill="#9edfe8"/><rect x="-64" y="608" width="32" height="32" fill="#9fdfe8"/><rect x="-32" y="608" width="32" height="32" fill="#9fdfe8"/><rect x="0" y="608" width="32" height="32" fill="#a3e0ea"/><rect x="32" y="608" width="32" height="32" fill="#aae3ec"/><rect x="64" y="608" width="32" height="32" fill="#b3e5ee"/><rect x="96" y="608" width="32" height="32" fill="#bbe7f0"/><rect x="128" y="608" width="32" height="32" fill="#c4e9f2"/><rect x="160" y="608" width="32" height="32" fill="#ccecf4"/><rect x="192" y="608" width="32" height="32" fill="#d3eef6"/><rect x="224" y="608" width="32" height="32" fill="#daf0f7"/><rect x="256" y="608" width="32" height="32" fill="#dff1f8"/><rect x="288" y="608" width="32" height="32" fill="#e1f2f9"/><rect x="320" y="608" width="32" height="32" fill="#e2f3f9"/><rect x="352" y="608" width="32" height="32" fill="#e0f3f9"/><rect x="384" y="608" width="32" height="32" fill="#dbf2f8"/><rect x="416" y="608" width="32" height="32" fill="#d5f0f6"/><rect x="448" y="608" width="32" height="32" fill="#cceef4"/><rect x="480" y="608" width="32" height="32" fill="#c3ebf2"/><rect x="512" y="608" width="32" height="32" fill="#b9e8ef"/><rect x="544" y="608" width="32" height="32" fill="#b0e5ed"/><rect x="576" y="608" width="32" height="32" fill="#a7e2ea"/><rect x="608" y="608" width="32" height="32" fill="#9fdee8"/><rect x="640" y="608" width="32" height="32" fill="#9edee8"/><rect x="672" y="608" width="32" height="32" fill="#9edee8"/><rect x="-64" y="640" width="32" height="32" fill="#9edde8"/><rect x="-32" y="640" width="32" height="32" fill="#9edde8"/><rect x="0" y="640" width="32" height="32" fill="#a2dfe9"/><rect x="32" y="640" width="32" height="32" fill="#aae1eb"/><rect x="64" y="640" width="32" height="32" fill="#b2e4ed"/><rect x="96" y="640" width="32" height="32" fill="#bbe7f0"/><rect x="128" y="640" width="32" height="32" fill="#c3e9f2"/><rect x="160" y="640" width="32" height="32" fill="#ccecf4"/><rect x="192" y="640" width="32" height="32" fill="#d3eef6"/><rect x="224" y="640" width="32" height="32" fill="#daf0f7"/><rect x="256" y="640" width="32" height="32" fill="#dff2f8"/><rect x="288" y="640" width="32" height="32" fill="#e3f3f9"/><rect x="320" y="640" width="32" height="32" fill="#e3f3fa"/><rect x="352" y="640" width="32" height="32" fill="#e0f3f9"/><rect x="384" y="640" width="32" height="32" fill="#dbf2f8"/><rect x="416" y="640" width="32" height="32" fill="#d4f0f6"/><rect x="448" y="640" width="32" height="32" fill="#cbedf4"/><rect x="480" y="640" width="32" height="32" fill="#c2eaf1"/><rect x="512" y="640" width="32" height="32" fill="#b8e7ee"/><rect x="544" y="640" width="32" height="32" fill="#afe3ec"/><rect x="576" y="640" width="32" height="32" fill="#a6e0ea"/><rect x="608" y="640" width="32" height="32" fill="#9fdde8"/><rect x="640" y="640" width="32" height="32" fill="#9ddce7"/><rect x="672" y="640" width="32" height="32" fill="#9ddce7"/><rect x="-64" y="672" width="32" height="32" fill="#9cdbe6"/><rect x="-32" y="672" width="32" height="32" fill="#9cdbe6"/><rect x="0" y="672" width="32" height="32" fill="#a0dde8"/><rect x="32" y="672" width="32" height="32" fill="#a8dfea"/><rect x="64" y="672" width="32" height="32" fill="#b0e3ec"/><rect x="96" y="672" width="32" height="32" fill="#b8e6ef"/><rect x="128" y="672" width="32" height="32" fill="#c1e9f1"/><rect x="160" y="672" width="32" height="32" fill="#c9ecf3"/><rect x="192" y="672" width="32" height="32" fill="#d1eef5"/><rect x="224" y="672" width="32" height="32" fill="#d7f0f7"/><rect x="256" y="672" width="32" height="32" fill="#ddf2f8"/><rect x="288" y="672" width="32" height="32" fill="#e1f3f9"/><rect x="320" y="672" width="32" height="32" fill="#e1f3f9"/><rect x="352" y="672" width="32" height="32" fill="#ddf2f9"/><rect x="384" y="672" width="32" height="32" fill="#d8f1f8"/><rect x="416" y="672" width="32" height="32" fill="#d1eff6"/><rect x="448" y="672" width="32" height="32" fill="#c8ecf3"/><rect x="480" y="672" width="32" height="32" fill="#bfe9f0"/><rect x="512" y="672" width="32" height="32" fill="#b5e5ed"/><rect x="544" y="672" width="32" height="32" fill="#ade1eb"/><rect x="576" y="672" width="32" height="32" fill="#a5dee9"/><rect x="608" y="672" width="32" height="32" fill="#9ddbe7"/><rect x="640" y="672" width="32" height="32" fill="#9cdae6"/><rect x="672" y="672" width="32" height="32" fill="#9cdae6"/><rect x="-64" y="704" width="32" height="32" fill="#99d9e5"/><rect x="-32" y="704" width="32" height="32" fill="#99d9e5"/><rect x="0" y="704" width="32" height="32" fill="#9cdbe6"/><rect x="32" y="704" width="32" height="32" fill="#a3dee8"/><rect x="64" y="704" width="32" height="32" fill="#abe1eb"/><rect x="96" y="704" width="32" height="32" fill="#b4e4ed"/><rect x="128" y="704" width="32" height="32" fill="#bce8f0"/><rect x="160" y="704" width="32" height="32" fill="#c4eaf2"/><rect x="192" y="704" width="32" height="32" fill="#cbedf4"/><rect x="224" y="704" width="32" height="32" fill="#d1eff5"/><rect x="256" y="704" width="32" height="32" fill="#d7f0f6"/><rect x="288" y="704" width="32" height="32" fill="#daf2f7"/><rect x="320" y="704" width="32" height="32" fill="#daf1f7"/><rect x="352" y="704" width="32" height="32" fill="#d6f0f7"/><rect x="384" y="704" width="32" height="32" fill="#d0eef6"/><rect x="416" y="704" width="32" height="32" fill="#caedf4"/><rect x="448" y="704" width="32" height="32" fill="#c2ebf1"/><rect x="480" y="704" width="32" height="32" fill="#b9e7ee"/><rect x="512" y="704" width="32" height="32" fill="#b0e4ec"/><rect x="544" y="704" width="32" height="32" fill="#a8e0e9"/><rect x="576" y="704" width="32" height="32" fill="#a1dce7"/><rect x="608" y="704" width="32" height="32" fill="#9ad9e6"/><rect x="640" y="704" width="32" height="32" fill="#99d8e5"/><rect x="672" y="704" width="32" height="32" fill="#99d8e5"/><rect x="-64" y="736" width="32" height="32" fill="#94d7e4"/><rect x="-32" y="736" width="32" height="32" fill="#94d7e4"/><rect x="0" y="736" width="32" height="32" fill="#97d9e5"/><rect x="32" y="736" width="32" height="32" fill="#9ddce7"/><rect x="64" y="736" width="32" height="32" fill="#a4dfe9"/><rect x="96" y="736" width="32" height="32" fill="#ade2ec"/><rect x="128" y="736" width="32" height="32" fill="#b5e6ee"/><rect x="160" y="736" width="32" height="32" fill="#bde8f1"/><rect x="192" y="736" width="32" height="32" fill="#c3ebf2"/><rect x="224" y="736" width="32" height="32" fill="#c8ecf3"/><rect x="256" y="736" width="32" height="32" fill="#cceef4"/><rect x="288" y="736" width="32" height="32" fill="#cfeef4"/><rect x="320" y="736" width="32" height="32" fill="#ceeef4"/><rect x="352" y="736" width="32" height="32" fill="#cbedf4"/><rect x="384" y="736" width="32" height="32" fill="#c5ebf3"/><rect x="416" y="736" width="32" height="32" fill="#c0eaf1"/><rect x="448" y="736" width="32" height="32" fill="#b9e8ee"/><rect x="480" y="736" width="32" height="32" fill="#b1e5ec"/><rect x="512" y="736" width="32" height="32" fill="#a9e1e9"/><rect x="544" y="736" width="32" height="32" fill="#a2dee7"/><rect x="576" y="736" width="32" height="32" fill="#9cdae6"/><rect x="608" y="736" width="32" height="32" fill="#95d7e4"/><rect x="640" y="736" width="32" height="32" fill="#94d7e4"/><rect x="672" y="736" width="32" height="32" fill="#94d7e4"/><rect x="-64" y="768" width="32" height="32" fill="#8ed6e2"/><rect x="-32" y="768" width="32" height="32" fill="#8ed6e2"/><rect x="0" y="768" width="32" height="32" fill="#90d7e3"/><rect x="32" y="768" width="32" height="32" fill="#96d9e5"/><rect x="64" y="768" width="32" height="32" fill="#9cdce7"/><rect x="96" y="768" width="32" height="32" fill="#a4e0ea"/><rect x="128" y="768" width="32" height="32" fill="#ace3ec"/><rect x="160" y="768" width="32" height="32" fill="#b3e6ef"/><rect x="192" y="768" width="32" height="32" fill="#b8e8f0"/><rect x="224" y="768" width="32" height="32" fill="#bde9f1"/><rect x="256" y="768" width="32" height="32" fill="#c0eaf1"/><rect x="288" y="768" width="32" height="32" fill="#c2ebf0"/><rect x="320" y="768" width="32" height="32" fill="#c3ebf0"/><rect x="352" y="768" width="32" height="32" fill="#c0eaf1"/><rect x="384" y="768" width="32" height="32" fill="#bce9f1"/><rect x="416" y="768" width="32" height="32" fill="#b6e7ef"/><rect x="448" y="768" width="32" height="32" fill="#b0e5ed"/><rect x="480" y="768" width="32" height="32" fill="#a9e2ea"/><rect x="512" y="768" width="32" height="32" fill="#a2dee7"/><rect x="544" y="768" width="32" height="32" fill="#9bdbe5"/><rect x="576" y="768" width="32" height="32" fill="#95d9e4"/><rect x="608" y="768" width="32" height="32" fill="#90d6e2"/><rect x="640" y="768" width="32" height="32" fill="#8fd5e2"/><rect x="672" y="768" width="32" height="32" fill="#8fd5e2"/><rect x="-64" y="800" width="32" height="32" fill="#89d4e1"/><rect x="-32" y="800" width="32" height="32" fill="#89d4e1"/><rect x="0" y="800" width="32" height="32" fill="#8ad5e1"/><rect x="32" y="800" width="32" height="32" fill="#8ed7e3"/><rect x="64" y="800" width="32" height="32" fill="#94dae5"/><rect x="96" y="800" width="32" height="32" fill="#9bdde7"/><rect x="128" y="800" width="32" height="32" fill="#a3e0ea"/><rect x="160" y="800" width="32" height="32" fill="#a9e3ec"/><rect x="192" y="800" width="32" height="32" fill="#aee4ee"/><rect x="224" y="800" width="32" height="32" fill="#b1e5ef"/><rect x="256" y="800" width="32" height="32" fill="#b4e6ee"/><rect x="288" y="800" width="32" height="32" fill="#b7e7ed"/><rect x="320" y="800" width="32" height="32" fill="#b8e7ee"/><rect x="352" y="800" width="32" height="32" fill="#b7e7ef"/><rect x="384" y="800" width="32" height="32" fill="#b3e7ef"/><rect x="416" y="800" width="32" height="32" fill="#aee5ee"/><rect x="448" y="800" width="32" height="32" fill="#a7e2eb"/><rect x="480" y="800" width="32" height="32" fill="#a0dee8"/><rect x="512" y="800" width="32" height="32" fill="#9adbe6"/><rect x="544" y="800" width="32" height="32" fill="#94d9e3"/><rect x="576" y="800" width="32" height="32" fill="#8fd7e2"/><rect x="608" y="800" width="32" height="32" fill="#8ad4e1"/><rect x="640" y="800" width="32" height="32" fill="#8ad4e0"/><rect x="672" y="800" width="32" height="32" fill="#8ad4e0"/><rect x="-64" y="832" width="32" height="32" fill="#84d2df"/><rect x="-32" y="832" width="32" height="32" fill="#84d2df"/><rect x="0" y="832" width="32" height="32" fill="#85d3e0"/><rect x="32" y="832" width="32" height="32" fill="#88d5e1"/><rect x="64" y="832" width="32" height="32" fill="#8cd7e3"/><rect x="96" y="832" width="32" height="32" fill="#93dae5"/><rect x="128" y="832" width="32" height="32" fill="#9adde7"/><rect x="160" y="832" width="32" height="32" fill="#a0dfe9"/><rect x="192" y="832" width="32" height="32" fill="#a4e1eb"/><rect x="224" y="832" width="32" height="32" fill="#a7e2ec"/><rect x="256" y="832" width="32" height="32" fill="#aae2ec"/><rect x="288" y="832" width="32" height="32" fill="#ade3eb"/><rect x="320" y="832" width="32" height="32" fill="#afe4ec"/><rect x="352" y="832" width="32" height="32" fill="#aee4ed"/><rect x="384" y="832" width="32" height="32" fill="#ace4ee"/><rect x="416" y="832" width="32" height="32" fill="#a6e2ec"/><rect x="448" y="832" width="32" height="32" fill="#9fdee9"/><rect x="480" y="832" width="32" height="32" fill="#98dbe6"/><rect x="512" y="832" width="32" height="32" fill="#92d8e4"/><rect x="544" y="832" width="32" height="32" fill="#8ed6e2"/><rect x="576" y="832" width="32" height="32" fill="#89d5e0"/><rect x="608" y="832" width="32" height="32" fill="#86d3df"/><rect x="640" y="832" width="32" height="32" fill="#85d2df"/><rect x="672" y="832" width="32" height="32" fill="#85d2df"/><rect x="-64" y="864" width="32" height="32" fill="#82d0de"/><rect x="-32" y="864" width="32" height="32" fill="#82d0de"/><rect x="0" y="864" width="32" height="32" fill="#82d1df"/><rect x="32" y="864" width="32" height="32" fill="#85d3e0"/><rect x="64" y="864" width="32" height="32" fill="#88d5e1"/><rect x="96" y="864" width="32" height="32" fill="#8ed7e3"/><rect x="128" y="864" width="32" height="32" fill="#94dae5"/><rect x="160" y="864" width="32" height="32" fill="#99dce7"/><rect x="192" y="864" width="32" height="32" fill="#9ddde8"/><rect x="224" y="864" width="32" height="32" fill="#a0dee9"/><rect x="256" y="864" width="32" height="32" fill="#a3dee9"/><rect x="288" y="864" width="32" height="32" fill="#a5dfe9"/><rect x="320" y="864" width="32" height="32" fill="#a6e0ea"/><rect x="352" y="864" width="32" height="32" fill="#a6e0eb"/><rect x="384" y="864" width="32" height="32" fill="#a3e0eb"/><rect x="416" y="864" width="32" height="32" fill="#9edee9"/><rect x="448" y="864" width="32" height="32" fill="#98dbe7"/><rect x="480" y="864" width="32" height="32" fill="#92d8e4"/><rect x="512" y="864" width="32" height="32" fill="#8dd5e2"/><rect x="544" y="864" width="32" height="32" fill="#89d4e1"/><rect x="576" y="864" width="32" height="32" fill="#86d2e0"/><rect x="608" y="864" width="32" height="32" fill="#83d0df"/><rect x="640" y="864" width="32" height="32" fill="#82d0df"/><rect x="672" y="864" width="32" height="32" fill="#82d0df"/><rect x="-64" y="896" width="32" height="32" fill="#80cfdd"/><rect x="-32" y="896" width="32" height="32" fill="#80cfdd"/><rect x="0" y="896" width="32" height="32" fill="#81d0de"/><rect x="32" y="896" width="32" height="32" fill="#83d1df"/><rect x="64" y="896" width="32" height="32" fill="#86d3e0"/><rect x="96" y="896" width="32" height="32" fill="#8ad5e1"/><rect x="128" y="896" width="32" height="32" fill="#8ed7e3"/><rect x="160" y="896" width="32" height="32" fill="#93d9e4"/><rect x="192" y="896" width="32" height="32" fill="#97dae5"/><rect x="224" y="896" width="32" height="32" fill="#99dbe6"/><rect x="256" y="896" width="32" height="32" fill="#9cdbe6"/><rect x="288" y="896" width="32" height="32" fill="#9edbe7"/><rect x="320" y="896" width="32" height="32" fill="#9edbe7"/><rect x="352" y="896" width="32" height="32" fill="#9ddce8"/><rect x="384" y="896" width="32" height="32" fill="#9bdce8"/><rect x="416" y="896" width="32" height="32" fill="#96dae6"/><rect x="448" y="896" width="32" height="32" fill="#92d8e4"/><rect x="480" y="896" width="32" height="32" fill="#8dd5e3"/><rect x="512" y="896" width="32" height="32" fill="#89d3e1"/><rect x="544" y="896" width="32" height="32" fill="#86d1e0"/><rect x="576" y="896" width="32" height="32" fill="#83d0e0"/><rect x="608" y="896" width="32" height="32" fill="#81cedf"/><rect x="640" y="896" width="32" height="32" fill="#80cedf"/><rect x="672" y="896" width="32" height="32" fill="#80cedf"/><rect x="-64" y="928" width="32" height="32" fill="#7fcddd"/><rect x="-32" y="928" width="32" height="32" fill="#7fcddd"/><rect x="0" y="928" width="32" height="32" fill="#80cedd"/><rect x="32" y="928" width="32" height="32" fill="#82d0de"/><rect x="64" y="928" width="32" height="32" fill="#84d1df"/><rect x="96" y="928" width="32" height="32" fill="#87d3e0"/><rect x="128" y="928" width="32" height="32" fill="#8ad4e1"/><rect x="160" y="928" width="32" height="32" fill="#8ed6e2"/><rect x="192" y="928" width="32" height="32" fill="#91d7e3"/><rect x="224" y="928" width="32" height="32" fill="#94d7e4"/><rect x="256" y="928" width="32" height="32" fill="#96d7e4"/><rect x="288" y="928" width="32" height="32" fill="#97d8e4"/><rect x="320" y="928" width="32" height="32" fill="#97d8e5"/><rect x="352" y="928" width="32" height="32" fill="#96d8e5"/><rect x="384" y="928" width="32" height="32" fill="#94d7e5"/><rect x="416" y="928" width="32" height="32" fill="#90d6e4"/><rect x="448" y="928" width="32" height="32" fill="#8cd4e3"/><rect x="480" y="928" width="32" height="32" fill="#89d2e1"/><rect x="512" y="928" width="32" height="32" fill="#86d0e1"/><rect x="544" y="928" width="32" height="32" fill="#83cfe0"/><rect x="576" y="928" width="32" height="32" fill="#81cddf"/><rect x="608" y="928" width="32" height="32" fill="#7fccdf"/><rect x="640" y="928" width="32" height="32" fill="#7ecbdf"/><rect x="672" y="928" width="32" height="32" fill="#7ecbdf"/><rect x="-64" y="960" width="32" height="32" fill="#7fcddc"/><rect x="-32" y="960" width="32" height="32" fill="#7fcddc"/><rect x="0" y="960" width="32" height="32" fill="#80cedd"/><rect x="32" y="960" width="32" height="32" fill="#81cfde"/><rect x="64" y="960" width="32" height="32" fill="#84d1df"/><rect x="96" y="960" width="32" height="32" fill="#86d2e0"/><rect x="128" y="960" width="32" height="32" fill="#8ad4e1"/><rect x="160" y="960" width="32" height="32" fill="#8dd5e2"/><rect x="192" y="960" width="32" height="32" fill="#90d6e3"/><rect x="224" y="960" width="32" height="32" fill="#93d7e3"/><rect x="256" y="960" width="32" height="32" fill="#94d7e4"/><rect x="288" y="960" width="32" height="32" fill="#96d7e4"/><rect x="320" y="960" width="32" height="32" fill="#96d7e4"/><rect x="352" y="960" width="32" height="32" fill="#95d7e4"/><rect x="384" y="960" width="32" height="32" fill="#93d7e4"/><rect x="416" y="960" width="32" height="32" fill="#8fd6e3"/><rect x="448" y="960" width="32" height="32" fill="#8cd4e2"/><rect x="480" y="960" width="32" height="32" fill="#88d2e1"/><rect x="512" y="960" width="32" height="32" fill="#85d0e0"/><rect x="544" y="960" width="32" height="32" fill="#82cee0"/><rect x="576" y="960" width="32" height="32" fill="#80cddf"/><rect x="608" y="960" width="32" height="32" fill="#7ecbdf"/><rect x="640" y="960" width="32" height="32" fill="#7ecbdf"/><rect x="672" y="960" width="32" height="32" fill="#7ecbdf"/><rect x="-64" y="992" width="32" height="32" fill="#7fcddc"/><rect x="-32" y="992" width="32" height="32" fill="#7fcddc"/><rect x="0" y="992" width="32" height="32" fill="#80cedd"/><rect x="32" y="992" width="32" height="32" fill="#81cfde"/><rect x="64" y="992" width="32" height="32" fill="#84d1df"/><rect x="96" y="992" width="32" height="32" fill="#86d2e0"/><rect x="128" y="992" width="32" height="32" fill="#8ad4e1"/><rect x="160" y="992" width="32" height="32" fill="#8dd5e2"/><rect x="192" y="992" width="32" height="32" fill="#90d6e3"/><rect x="224" y="992" width="32" height="32" fill="#93d7e3"/><rect x="256" y="992" width="32" height="32" fill="#94d7e4"/><rect x="288" y="992" width="32" height="32" fill="#96d7e4"/><rect x="320" y="992" width="32" height="32" fill="#96d7e4"/><rect x="352" y="992" width="32" height="32" fill="#95d7e4"/><rect x="384" y="992" width="32" height="32" fill="#93d7e4"/><rect x="416" y="992" width="32" height="32" fill="#8fd6e3"/><rect x="448" y="992" width="32" height="32" fill="#8cd4e2"/><rect x="480" y="992" width="32" height="32" fill="#88d2e1"/><rect x="512" y="992" width="32" height="32" fill="#85d0e0"/><rect x="544" y="992" width="32" height="32" fill="#82cee0"/><rect x="576" y="992" width="32" height="32" fill="#80cddf"/><rect x="608" y="992" width="32" height="32" fill="#7ecbdf"/><rect x="640" y="992" width="32" height="32" fill="#7ecbdf"/><rect x="672" y="992" width="32" height="32" fill="#7ecbdf"/></g>
<g filter="url(#soft)">
<g transform="scale(0.5 1)">
<path d="M481.2,292 L481.2,535" fill="none" stroke="#10207a" stroke-width="6.5" stroke-linejoin="miter" stroke-linecap="butt" />
<path d="M545.6,535 L545.6,352.7 L732,352.7" fill="none" stroke="#10207a" stroke-width="6.5" stroke-linejoin="miter" stroke-linecap="butt" />
<path d="M832,354.5 L931.0,354.5 L1011.2,233" fill="none" stroke="#10207a" stroke-width="6.5" stroke-linejoin="miter" stroke-linecap="butt" />
<path d="M254.4,542.3 L282,647.5 L464,647.5" fill="none" stroke="#10207a" stroke-width="6.5" stroke-linejoin="miter" stroke-linecap="butt" />
<path d="M562,647 L1010,647" fill="none" stroke="#10207a" stroke-width="6.5" stroke-linejoin="miter" stroke-linecap="butt" />
<path d="M415.2,177 L541.2,177 L541.2,203.6 L415.2,203.6 Z" fill="none" stroke="#0f1f70" stroke-width="6.5" stroke-linejoin="miter" stroke-linecap="butt" />
<path d="M425.6,206 L425.6,291.2 L529.6,291.2 L529.6,206" fill="none" stroke="#0f1f70" stroke-width="5.8" stroke-linejoin="miter" stroke-linecap="butt" />
<path d="M442.6,212.4 L442.6,230.5" fill="none" stroke="#0f1f70" stroke-width="5.8" stroke-linejoin="miter" stroke-linecap="round" />
<path d="M435.2,221.4 L449.2,221.4" fill="none" stroke="#0f1f70" stroke-width="6.0" stroke-linejoin="miter" stroke-linecap="round" />
<path d="M503.2,221.2 L516.8,221.2" fill="none" stroke="#0f1f70" stroke-width="6.4" stroke-linejoin="miter" stroke-linecap="round" />
<path d="M486.2,219.5 L468.6,248.6 L479.8,248.1 L468.4,275.6" fill="none" stroke="#0f1f70" stroke-width="7.0" stroke-linejoin="round" stroke-linecap="round" />
<rect x="464.2" y="536.3" width="97.00000000000006" height="152.4000000000001" rx="9.0" ry="4.5" fill="none" stroke="#0e1f68" stroke-width="5.2"/>
<rect x="478.6" y="553.1" width="69.39999999999998" height="22.799999999999955" rx="1.0" ry="0.5" fill="none" stroke="#0e1f68" stroke-width="5.0"/>
<rect x="731.4" y="272.6" width="101.0" height="102.0" rx="6" ry="3" fill="none" stroke="#0f1f70" stroke-width="3.4"/>
<path d="M742.2,284.4 L821.2,284.4 L821.2,363.4 L742.2,363.4 Z" fill="none" stroke="#0f1f70" stroke-width="3.6" stroke-linejoin="miter" stroke-linecap="butt" />
<path d="M753.6,297.5 L808.4,297.5 L808.4,324.2 L753.6,324.2 Z" fill="none" stroke="#0f1f70" stroke-width="3.4" stroke-linejoin="miter" stroke-linecap="butt" />
<path d="M767.0,297 L767.0,325" fill="none" stroke="#0f1f70" stroke-width="3.0" stroke-linejoin="miter" stroke-linecap="butt" />
<path d="M781.0,297 L781.0,325" fill="none" stroke="#0f1f70" stroke-width="3.0" stroke-linejoin="miter" stroke-linecap="butt" />
<path d="M795.6,297 L795.6,325" fill="none" stroke="#0f1f70" stroke-width="3.0" stroke-linejoin="miter" stroke-linecap="butt" />
<path d="M752.4,343.5 L809.6,343.5" fill="none" stroke="#0f1f70" stroke-width="2.6" stroke-linejoin="miter" stroke-linecap="butt" />
<path d="M799.2,332.7 L799.2,351" fill="none" stroke="#0f1f70" stroke-width="3.6" stroke-linejoin="miter" stroke-linecap="butt" />
<path d="M731.0,314.2 A10.0,9.4 0 0 0 731.0,333" fill="none" stroke="#0f1f70" stroke-width="3.4"/>
<path d="M833.0,314.2 A10.0,9.4 0 0 1 833.0,333" fill="none" stroke="#0f1f70" stroke-width="3.4"/>
<path d="M739.6,375 L739.6,398.5 Q739.6,402.5 744,402.5 L819.4,402.5 Q823.8,402.5 823.8,398.5 L823.8,375" fill="none" stroke="#0f1f70" stroke-width="3.4"/>
<path d="M745.6,403 L745.6,426 Q745.6,428 747.6,428 L755.8,428 Q757.8,428 757.8,426 L757.8,403" fill="none" stroke="#0f1f70" stroke-width="3.3"/>
<path d="M775.0,403 L775.0,426 Q775.0,428 777.0,428 L783.8,428 Q785.8,428 785.8,426 L785.8,403" fill="none" stroke="#0f1f70" stroke-width="3.3"/>
<path d="M802.8,403 L802.8,426 Q802.8,428 804.8,428 L812.8,428 Q814.8,428 814.8,426 L814.8,403" fill="none" stroke="#0f1f70" stroke-width="3.3"/>
<path d="M1068.6,61.6 L1088.8,25.0 L1109.4,61.6" fill="none" stroke="#0f1f74" stroke-width="4.0" stroke-linejoin="miter" stroke-linecap="butt" />
<path d="M1066.6,61.6 L1111.4,61.6" fill="none" stroke="#0f1f74" stroke-width="3.6" stroke-linejoin="miter" stroke-linecap="butt" />
<path d="M1069.0,60 L1069.0,166" fill="none" stroke="#0f1f74" stroke-width="4.0" stroke-linejoin="miter" stroke-linecap="butt" />
<path d="M1109.0,60 L1109.0,166" fill="none" stroke="#0f1f74" stroke-width="4.0" stroke-linejoin="miter" stroke-linecap="butt" />
<path d="M1069.0,69 L1019.6,94.7" fill="none" stroke="#0f1f74" stroke-width="4.0" stroke-linejoin="miter" stroke-linecap="butt" />
<path d="M1109.0,69 L1158.4,94.7" fill="none" stroke="#0f1f74" stroke-width="4.0" stroke-linejoin="miter" stroke-linecap="butt" />
<path d="M1015.6,94.7 L1069.0,94.7" fill="none" stroke="#0f1f74" stroke-width="4.2" stroke-linejoin="miter" stroke-linecap="butt" />
<path d="M1109.0,94.7 L1162.4,94.7" fill="none" stroke="#0f1f74" stroke-width="4.2" stroke-linejoin="miter" stroke-linecap="butt" />
<path d="M1019.2,94.7 L1019.2,111.5" fill="none" stroke="#0f1f74" stroke-width="4.0" stroke-linejoin="miter" stroke-linecap="round" />
<path d="M1026.4,94.7 L1026.4,111.5" fill="none" stroke="#0f1f74" stroke-width="4.0" stroke-linejoin="miter" stroke-linecap="round" />
<path d="M1151.6,94.7 L1151.6,111.5" fill="none" stroke="#0f1f74" stroke-width="4.0" stroke-linejoin="miter" stroke-linecap="round" />
<path d="M1158.8,94.7 L1158.8,111.5" fill="none" stroke="#0f1f74" stroke-width="4.0" stroke-linejoin="miter" stroke-linecap="round" />
<path d="M1069.0,114.2 L1019.6,139.5" fill="none" stroke="#0f1f74" stroke-width="4.0" stroke-linejoin="miter" stroke-linecap="butt" />
<path d="M1109.0,114.2 L1158.4,139.5" fill="none" stroke="#0f1f74" stroke-width="4.0" stroke-linejoin="miter" stroke-linecap="butt" />
<path d="M1015.6,139.5 L1069.0,139.5" fill="none" stroke="#0f1f74" stroke-width="4.2" stroke-linejoin="miter" stroke-linecap="butt" />
<path d="M1109.0,139.5 L1162.4,139.5" fill="none" stroke="#0f1f74" stroke-width="4.2" stroke-linejoin="miter" stroke-linecap="butt" />
<path d="M1019.2,139.5 L1019.2,156.3" fill="none" stroke="#0f1f74" stroke-width="4.0" stroke-linejoin="miter" stroke-linecap="round" />
<path d="M1026.4,139.5 L1026.4,156.3" fill="none" stroke="#0f1f74" stroke-width="4.0" stroke-linejoin="miter" stroke-linecap="round" />
<path d="M1151.6,139.5 L1151.6,156.3" fill="none" stroke="#0f1f74" stroke-width="4.0" stroke-linejoin="miter" stroke-linecap="round" />
<path d="M1158.8,139.5 L1158.8,156.3" fill="none" stroke="#0f1f74" stroke-width="4.0" stroke-linejoin="miter" stroke-linecap="round" />
<path d="M1069.0,62 L1109.0,95.5 L1069.0,130.0 L1109.0,165" fill="none" stroke="#0f1f74" stroke-width="3.8" stroke-linejoin="round" stroke-linecap="butt" />
<path d="M1109.0,62 L1069.0,95.5 L1109.0,130.0 L1069.0,165" fill="none" stroke="#0f1f74" stroke-width="3.8" stroke-linejoin="round" stroke-linecap="butt" />
<path d="M1062.6,166 L1115.4,166" fill="none" stroke="#0f1f74" stroke-width="3.6" stroke-linejoin="miter" stroke-linecap="butt" />
<path d="M1064.4,166 L1056.0,231.5" fill="none" stroke="#0f1f74" stroke-width="4.0" stroke-linejoin="miter" stroke-linecap="butt" />
<path d="M1113.6,166 L1121.6,231.5" fill="none" stroke="#0f1f74" stroke-width="4.0" stroke-linejoin="miter" stroke-linecap="butt" />
<path d="M1065.0,167 L1120.0,230.5" fill="none" stroke="#0f1f74" stroke-width="3.6" stroke-linejoin="miter" stroke-linecap="butt" />
<path d="M1113.0,167 L1057.2,230.5" fill="none" stroke="#0f1f74" stroke-width="3.6" stroke-linejoin="miter" stroke-linecap="butt" />
<path d="M1034.2,231.5 L1141.0,231.5" fill="none" stroke="#0f1f74" stroke-width="3.6" stroke-linejoin="miter" stroke-linecap="butt" />
<ellipse cx="181.4" cy="249.6" rx="41.8" ry="49.7" fill="none" stroke="#0e2088" stroke-width="9.8"/>
<path d="M181.0,159.5 L181.0,175.8" fill="none" stroke="#0e2088" stroke-width="7.8" stroke-linejoin="miter" stroke-linecap="round" />
<path d="M181.0,323.7 L181.0,338.5" fill="none" stroke="#0e2088" stroke-width="7.8" stroke-linejoin="miter" stroke-linecap="round" />
<path d="M129.2,185.4 L135.2,197.8" fill="none" stroke="#0e2088" stroke-width="10.0" stroke-linejoin="miter" stroke-linecap="round" />
<path d="M232.8,185.4 L226.8,197.8" fill="none" stroke="#0e2088" stroke-width="10.0" stroke-linejoin="miter" stroke-linecap="round" />
<path d="M134.8,301.1 L129.2,313.7" fill="none" stroke="#0e2088" stroke-width="10.0" stroke-linejoin="miter" stroke-linecap="round" />
<path d="M227.2,301.1 L232.8,313.7" fill="none" stroke="#0e2088" stroke-width="10.0" stroke-linejoin="miter" stroke-linecap="round" />
<path d="M206.8,354 L330.2,354 Q343.2,354 339.6,364 L306.8,437.7 L189.4,437.7 Q169.4,437.7 175.2,424.7 Z" fill="none" stroke="#0e2188" stroke-width="8.6" stroke-linejoin="round"/>
<path d="M189.0,393.5 L325.6,393.5" fill="none" stroke="#0e2188" stroke-width="9.0" stroke-linejoin="miter" stroke-linecap="butt" />
<path d="M250.8,354 L219.2,437.7" fill="none" stroke="#0e2188" stroke-width="8.6" stroke-linejoin="miter" stroke-linecap="butt" />
<path d="M297.6,354 L266.4,437.7" fill="none" stroke="#0e2188" stroke-width="8.6" stroke-linejoin="miter" stroke-linecap="butt" />
<text x="423.8" y="113.3" textLength="118.40000000000003" lengthAdjust="spacingAndGlyphs" font-family="Liberation Sans" font-weight="bold" font-size="34.2" fill="#0f1e80" stroke="#0f1e80" stroke-width="2.4" stroke-linejoin="round">Battery</text>
<text x="1002.2" y="308.0" textLength="170.39999999999986" lengthAdjust="spacingAndGlyphs" font-family="Liberation Sans" font-weight="bold" font-size="35.2" fill="#0f1e80" stroke="#0f1e80" stroke-width="2.4" stroke-linejoin="round">Utility Grid</text>
<text x="137.8" y="523.0" textLength="176.8" lengthAdjust="spacingAndGlyphs" font-family="Liberation Sans" font-weight="bold" font-size="35.2" fill="#0f1e80" stroke="#0f1e80" stroke-width="2.4" stroke-linejoin="round">Solar Panel</text>
<text x="705.8" y="499.0" textLength="152.80000000000007" lengthAdjust="spacingAndGlyphs" font-family="Liberation Sans" font-weight="bold" font-size="36.2" fill="#0f1e80" stroke="#0f1e80" stroke-width="2.4" stroke-linejoin="round">Net Meter</text>
<text x="457.4" y="761.7" textLength="124.0" lengthAdjust="spacingAndGlyphs" font-family="Liberation Sans" font-weight="bold" font-size="37.0" fill="#0f1e80" stroke="#0f1e80" stroke-width="2.4" stroke-linejoin="round">Inverter</text>
<text x="1026.2" y="761.5" textLength="88.39999999999986" lengthAdjust="spacingAndGlyphs" font-family="Liberation Sans" font-weight="bold" font-size="36.2" fill="#0f1e80" stroke="#0f1e80" stroke-width="2.4" stroke-linejoin="round">Home</text>
</g>
<path d="M305.1,339.9 Q306.475,346.3 310.6,352.7 Q306.475,359.09999999999997 305.1,365.5" fill="none" stroke="#10207a" stroke-width="3.0" stroke-linecap="round" stroke-linejoin="round"/>
<path d="M442.1,341.7 Q443.475,348.1 447.6,354.5 Q443.475,360.9 442.1,367.3" fill="none" stroke="#10207a" stroke-width="3.0" stroke-linecap="round" stroke-linejoin="round"/>
<path d="M171.1,634.7 Q172.475,641.1 176.6,647.5 Q172.475,653.9 171.1,660.3" fill="none" stroke="#10207a" stroke-width="3.0" stroke-linecap="round" stroke-linejoin="round"/>
<path d="M352.1,634.2 Q353.475,640.6 357.6,647 Q353.475,653.4 352.1,659.8" fill="none" stroke="#10207a" stroke-width="3.0" stroke-linecap="round" stroke-linejoin="round"/>
<path d="M432.8,634.2 Q434.175,640.6 438.3,647 Q434.175,653.4 432.8,659.8" fill="none" stroke="#10207a" stroke-width="3.0" stroke-linecap="round" stroke-linejoin="round"/>
<path d="M235.5,402.8 Q236.51999999999998,393.92 240.6,388.0 Q244.68,393.92 245.7,402.8" fill="none" stroke="#10207a" stroke-width="3.0" stroke-linecap="round" stroke-linejoin="round"/>
<path d="M235.5,447.5 Q236.51999999999998,456.38 240.6,462.3 Q244.68,456.38 245.7,447.5" fill="none" stroke="#10207a" stroke-width="3.0" stroke-linecap="round" stroke-linejoin="round"/>
<path d="M267.7,402.8 Q268.72,393.92 272.8,388.0 Q276.88,393.92 277.90000000000003,402.8" fill="none" stroke="#10207a" stroke-width="3.0" stroke-linecap="round" stroke-linejoin="round"/>
<path d="M267.7,447.5 Q268.72,456.38 272.8,462.3 Q276.88,456.38 277.90000000000003,447.5" fill="none" stroke="#10207a" stroke-width="3.0" stroke-linecap="round" stroke-linejoin="round"/>
<rect x="216.2" y="153" width="9.9" height="6.4" rx="0" fill="#0f1f70"/>
<rect x="216.2" y="159" width="2.6" height="3.5" rx="0" fill="#0f1f70"/>
<rect x="223.5" y="159" width="2.6" height="3.5" rx="0" fill="#0f1f70"/>
<rect x="214.3" y="162" width="14" height="5.2" rx="0" fill="#0f1f70"/>
<rect x="214.3" y="166" width="2.8" height="9" rx="0" fill="#0f1f70"/>
<rect x="225.5" y="166" width="2.8" height="9" rx="0" fill="#0f1f70"/>
<rect x="251.79999999999998" y="153" width="9.9" height="6.4" rx="0" fill="#0f1f70"/>
<rect x="251.79999999999998" y="159" width="2.6" height="3.5" rx="0" fill="#0f1f70"/>
<rect x="259.1" y="159" width="2.6" height="3.5" rx="0" fill="#0f1f70"/>
<rect x="249.9" y="162" width="14" height="5.2" rx="0" fill="#0f1f70"/>
<rect x="249.9" y="166" width="2.8" height="9" rx="0" fill="#0f1f70"/>
<rect x="261.1" y="166" width="2.8" height="9" rx="0" fill="#0f1f70"/>
<path d="M231.5,544.7 L223.7,544.7 L223.7,549.2 Q226.89999999999998,555.6500000000001 223.7,562.1 L223.7,566.6 L231.5,566.6 Z M227.4,550.8 L229.7,550.8 L229.7,560.8 L227.4,560.8 Z" fill="#0e1f68" fill-rule="evenodd"/>
<path d="M231.5,658.4 L223.8,658.4 L223.8,662.9 Q227.0,669.0999999999999 223.8,675.3 L223.8,679.8 L231.5,679.8 Z M227.4,664.0 L229.7,664.0 L229.7,674.4 L227.4,674.4 Z" fill="#0e1f68" fill-rule="evenodd"/>
<path d="M281.2,544.7 L289.8,544.7 L289.8,549.2 Q286.6,555.6500000000001 289.8,562.1 L289.8,566.6 L281.2,566.6 Z M283.0,550.8 L285.4,550.8 L285.4,560.8 L283.0,560.8 Z" fill="#0e1f68" fill-rule="evenodd"/>
<path d="M281.2,658.4 L289.8,658.4 L289.8,662.9 Q286.6,669.0999999999999 289.8,675.3 L289.8,679.8 L281.2,679.8 Z M283.0,664.0 L285.4,664.0 L285.4,674.4 L283.0,674.4 Z" fill="#0e1f68" fill-rule="evenodd"/>
<g><path d="M249.99,638.23 A7.6,18.6 0 0 1 255.12,611.31" fill="none" stroke="#0e1f68" stroke-width="3.0" stroke-linecap="round"/><path d="M253.0,597.5 L260.6,613.2 L256.5,611.0 L253.5,612.5 Z" fill="#0e1f68"/></g>
<g transform="rotate(180 256.7 629.5)"><path d="M249.99,638.23 A7.6,18.6 0 0 1 255.12,611.31" fill="none" stroke="#0e1f68" stroke-width="3.0" stroke-linecap="round"/><path d="M253.0,597.5 L260.6,613.2 L256.5,611.0 L253.5,612.5 Z" fill="#0e1f68"/></g>
<rect x="50.8" y="244.4" width="10.0" height="10.4" rx="3" fill="#0e2088"/>
<rect x="119.8" y="244.4" width="10.6" height="10.4" rx="3" fill="#0e2088"/>
<path d="M535.4,498.7 L579.8,592.2 L575.3,603.6 L535.4,520.6 L495.0,603.6 L490.4,592.2 Z" fill="#0f1e9a"/>
<path d="M503.5,511.2 L514.5,511.2 L514.5,525.2 L503.5,549.4 Z" fill="#0f1e9a"/>
<path d="M535.4,535.3 L566.2,599.8 L566.2,698.9 L544.8,698.9 L544.8,653.5 L543.3,652.2 L526.4,652.2 L524.9,653.5 L524.9,698.9 L504.0,698.9 L504.0,599.8 Z" fill="#0f1e9a"/>
</g>
</g>
</svg>
</body></html>
